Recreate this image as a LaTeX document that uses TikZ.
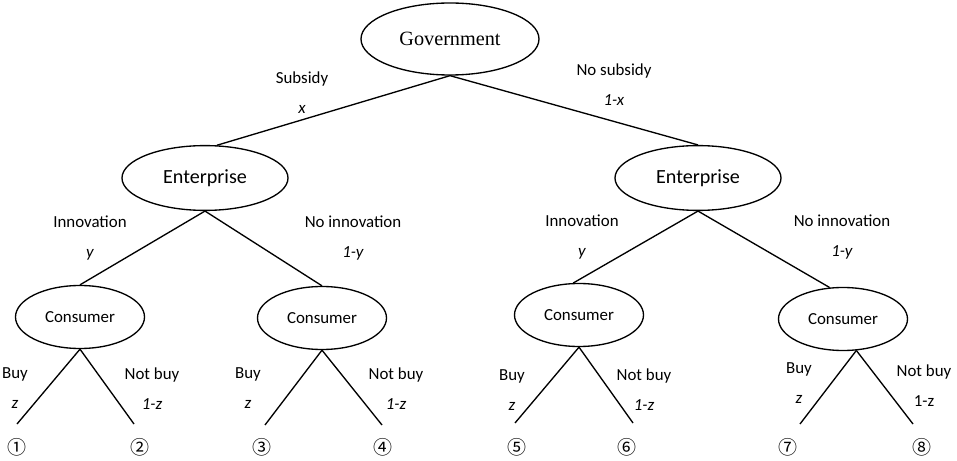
\documentclass[tikz,border=0pt]{standalone}
\usepackage{fontspec}
\setmainfont{Carlito}
\newfontfamily\govfont{Liberation Serif}
\newfontfamily\circfont{Noto Sans CJK SC}
\usepackage{tikz}
\usetikzlibrary{shapes.geometric,positioning}

\begin{document}
\begin{tikzpicture}[on grid,line width=0.95pt,
		govnode/.style={ellipse,draw,inner sep=0pt,minimum width=4.45cm,minimum height=1.8cm,font=\govfont\fontsize{14.4}{16}\selectfont},
		firm/.style={ellipse,draw,inner sep=0pt,minimum width=4.15cm,minimum height=1.62cm,font=\fontsize{14.3}{16}\selectfont},
		buyer/.style={ellipse,draw,inner sep=0pt,minimum width=3.225cm,minimum height=1.575cm,font=\fontsize{12}{14}\selectfont},
		lbl/.style={align=center,inner sep=0pt,font=\fontsize{12}{21.3}\selectfont},
		leaf/.style={inner sep=0pt,font=\circfont\fontsize{13.5}{16}\selectfont}]
		\useasboundingbox (0,0) rectangle (23.925,-11.525);

		% players
		\node[govnode] (gov) at (11.25,-0.975) {Government};
		\node[firm,below left=3.475cm and 6.125cm of gov] (entL) {Enterprise};
		\node[firm,below right=3.475cm and 6.2cm of gov] (entR) {Enterprise};
		\node[buyer,below left=3.475cm and 3.125cm of entL] (conA) {Consumer};
		\node[buyer,below right=3.5cm and 2.925cm of entL] (conB) {Consumer};
		\node[buyer,below left=3.425cm and 2.975cm of entR] (conC) {Consumer};
		\node[buyer,below right=3.525cm and 3.625cm of entR] (conD) {Consumer};

		% ends of the branches
		\coordinate (a1) at (0.425,-10.6);
		\coordinate (a2) at (3.35,-10.6);
		\coordinate (b1) at (6.625,-10.625);
		\coordinate (b2) at (9.55,-10.625);
		\coordinate (c1) at (12.875,-10.575);
		\coordinate (c2) at (15.825,-10.575);
		\coordinate (d1) at (20.0,-10.6);
		\coordinate (d2) at (22.825,-10.6);

		\node[leaf] (n1) at (0.425,-11.175) {①};
		\node[leaf] (n2) at (3.5,-11.175) {②};
		\node[leaf] (n3) at (6.55,-11.175) {③};
		\node[leaf] (n4) at (9.575,-11.175) {④};
		\node[leaf] (n5) at (12.925,-11.175) {⑤};
		\node[leaf] (n6) at (15.675,-11.175) {⑥};
		\node[leaf] (n7) at (19.7,-11.175) {⑦};
		\node[leaf] (n8) at (23.05,-11.175) {⑧};

		% branches
		\draw (gov.south) to (entL.70);
		\draw (gov.south) to (entR.north);
		\draw (entL.south) to (conA.north);
		\draw (entL.south) to (conB.north);
		\draw (entR.south) to (conC.100);
		\draw (entR.south) to (conD.113);
		\draw (conA.south) to (a1);
		\draw (conA.south) to (a2);
		\draw (conB.south) to (b1);
		\draw (conB.south) to (b2);
		\draw (conC.south) to (c1);
		\draw (conC.south) to (c2);
		\draw (conD.-67) to (d1);
		\draw (conD.-67) to (d2);

		% strategies and probabilities
		\node[lbl] (sub) at (7.55,-2.325) {Subsidy \\ \textit{x}};
		\node[lbl] (nosub) at (15.35,-2.125) {No subsidy \\ \textit{1-x}};
		\node[lbl] (innL) at (2.25,-5.95) {Innovation \\ \textit{y}};
		\node[lbl] (noinnL) at (8.825,-5.95) {No innovation \\ \textit{1-y}};
		\node[lbl] (innR) at (14.55,-5.925) {Innovation \\ \textit{y}};
		\node[lbl] (noinnR) at (21.05,-5.925) {No innovation \\ \textit{1-y}};
		\node[lbl] (buyA) at (0.375,-9.7) {Buy \\ \textit{z}};
		\node[lbl] (notA) at (3.8,-9.725) {Not buy \\ \textit{1-z}};
		\node[lbl] (buyB) at (6.2,-9.7) {Buy \\ \textit{z}};
		\node[lbl] (notB) at (9.9,-9.725) {Not buy \\ \textit{1-z}};
		\node[lbl] (buyC) at (12.8,-9.75) {Buy \\ \textit{z}};
		\node[lbl] (notC) at (16.1,-9.75) {Not buy \\ \textit{1-z}};
		\node[lbl] (buyD) at (19.975,-9.575) {Buy \\ \textit{z}};
		\node[lbl] (notD) at (23.1,-9.65) {Not buy \\ 1-z};
	\end{tikzpicture}
\end{document}
